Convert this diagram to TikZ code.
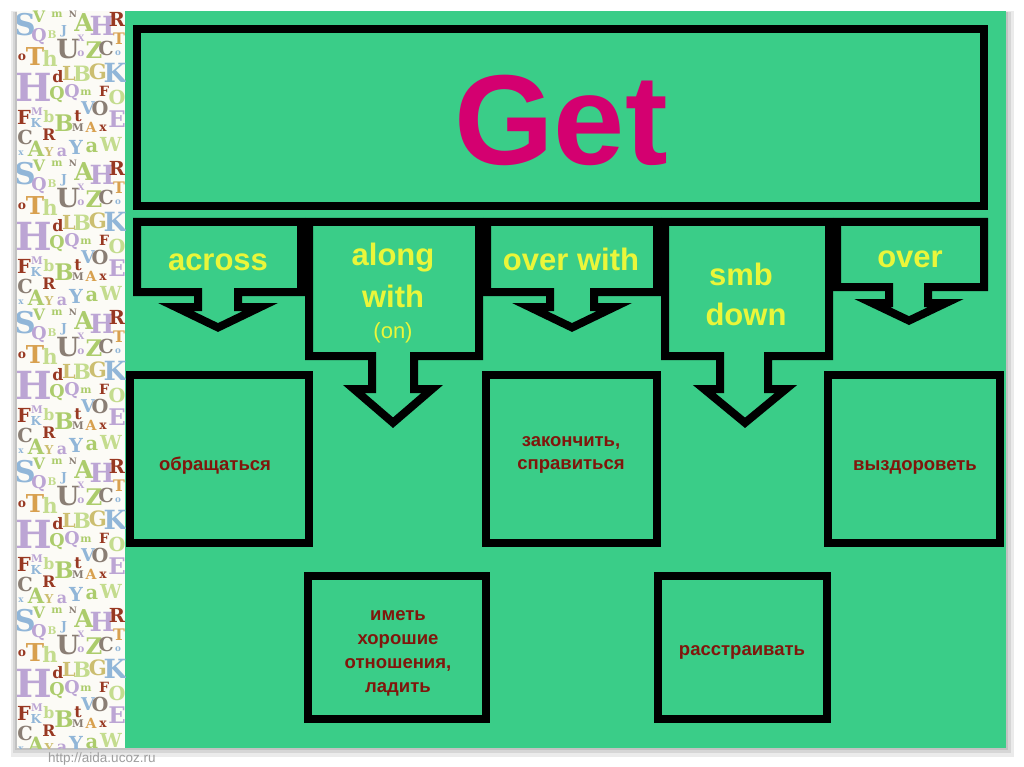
\documentclass[tikz,border=0pt]{standalone}
\usepackage{fontspec}
\setmainfont{Liberation Sans}
\newfontfamily\slab{DejaVu Serif}
\definecolor{slidegreen}{RGB}{58,205,136}
\definecolor{getpink}{RGB}{212,0,112}
\definecolor{lblyellow}{RGB}{234,246,58}
\definecolor{dkred}{RGB}{128,22,12}
\definecolor{stripbg}{RGB}{252,251,246}
\definecolor{lav}{RGB}{188,165,212}
\definecolor{lblue}{RGB}{145,182,216}
\definecolor{lgreen}{RGB}{172,204,108}
\definecolor{olive}{RGB}{204,190,112}
\definecolor{greyl}{RGB}{138,126,116}
\definecolor{orng}{RGB}{216,160,78}
\definecolor{brwn}{RGB}{152,56,34}
\definecolor{pgreen}{RGB}{196,220,142}
\newcount\ltc
\newcommand{\lt}[5]{\global\advance\ltc by 1\relax
  \pgfmathsetmacro\fs{0.88*#4}%
  \node[letter,text=#3,font=\slab\bfseries\fontsize{\fs}{\fs}\selectfont] (lt\the\ltc) at (#1,{#2+\ty}) {#5};}
\begin{document}
\begin{tikzpicture}[x=1pt,y=-1pt,
  frame/.style={draw=black,line width=8pt,fill=slidegreen,line join=miter,miter limit=8},
  ylabel/.style={text=lblyellow,font=\bfseries\fontsize{31}{36}\selectfont,anchor=base,inner sep=0pt},
  ysmall/.style={text=lblyellow,font=\fontsize{22}{26}\selectfont,anchor=base,inner sep=0pt},
  rlabel/.style={text=dkred,font=\bfseries\fontsize{18.5}{24}\selectfont,anchor=base,align=center,inner sep=0pt},
  letter/.style={inner sep=0pt,anchor=center}]
\useasboundingbox (0,0) rectangle (1024,767);
\fill[white] (0,0) rectangle (1024,767);
% shadow
\fill[black!8] (11,11) rectangle (1014,757);
\fill[black!16] (13,12) rectangle (1011,753);
\fill[black!24] (15,12) rectangle (1008,750);
% slide
\fill[slidegreen] (125,11) rectangle (1006,748);
\fill[stripbg] (17,11) rectangle (125,748);
\begin{scope}
\clip (17,11) rectangle (125,748);
\foreach \t in {0,...,4}{
  \pgfmathsetmacro\ty{\t*149}
  \lt{25}{25}{lblue}{34}{S}
  \lt{39}{17}{lgreen}{18}{V}
  \lt{57}{15}{lgreen}{12}{m}
  \lt{73}{14}{greyl}{10}{N}
  \lt{84}{23}{lgreen}{28}{A}
  \lt{102}{26}{lav}{30}{H}
  \lt{117}{19}{brwn}{22}{R}
  \lt{39}{37}{lav}{20}{Q}
  \lt{52}{35}{pgreen}{12}{B}
  \lt{64}{31}{lblue}{14}{J}
  \lt{119}{39}{orng}{18}{T}
  \lt{68}{49}{greyl}{30}{U}
  \lt{81}{38}{lav}{10}{X}
  \lt{81}{54}{lav}{12}{o}
  \lt{94}{50}{lgreen}{26}{Z}
  \lt{106}{48}{greyl}{22}{C}
  \lt{118}{53}{lblue}{10}{o}
  \lt{22}{57}{brwn}{14}{o}
  \lt{35}{57}{orng}{28}{T}
  \lt{50}{58}{pgreen}{24}{h}
  \lt{34}{87}{lav}{44}{H}
  \lt{58}{77}{brwn}{18}{d}
  \lt{69}{73}{olive}{22}{L}
  \lt{82}{74}{pgreen}{24}{B}
  \lt{98}{72}{olive}{24}{G}
  \lt{115}{73}{lblue}{30}{K}
  \lt{57}{95}{lgreen}{20}{Q}
  \lt{72}{93}{lav}{20}{Q}
  \lt{86}{93}{lgreen}{12}{m}
  \lt{104}{91}{brwn}{16}{F}
  \lt{117}{97}{pgreen}{22}{O}
  \lt{24}{117}{brwn}{22}{F}
  \lt{37}{112}{lav}{12}{M}
  \lt{49}{117}{pgreen}{18}{b}
  \lt{36}{123}{lblue}{14}{K}
  \lt{64}{123}{lgreen}{26}{B}
  \lt{78}{116}{brwn}{18}{t}
  \lt{88}{108}{lblue}{20}{V}
  \lt{100}{108}{greyl}{22}{O}
  \lt{117}{119}{lav}{26}{E}
  \lt{78}{128}{greyl}{12}{M}
  \lt{91}{127}{orng}{16}{A}
  \lt{103}{128}{brwn}{14}{x}
  \lt{49}{135}{brwn}{18}{R}
  \lt{25}{137}{greyl}{22}{C}
  \lt{36}{149}{lgreen}{24}{A}
  \lt{49}{152}{olive}{14}{Y}
  \lt{62}{152}{lav}{18}{a}
  \lt{76}{147}{lblue}{22}{Y}
  \lt{92}{147}{lgreen}{22}{a}
  \lt{111}{144}{pgreen}{22}{W}
  \lt{21}{153}{lblue}{10}{x}
}
\end{scope}
% top box
\draw[frame] (137,29) rectangle (984,206);
\node[text=getpink,font=\bfseries\fontsize{128}{128}\selectfont,anchor=base,inner sep=0pt] (get) at (561,165) {Get};
% callouts
\draw[frame] (137,222) -- (301,222) -- (301,292) -- (238,292) -- (238,307) -- (260.5,307) -- (218,327.5) -- (175.5,307) -- (198,307) -- (198,292) -- (137,292) -- cycle;
\draw[frame] (309,222) -- (479,222) -- (479,356) -- (414,356) -- (414,389) -- (432.2,389) -- (393,422.7) -- (353.8,389) -- (372,389) -- (372,356) -- (309,356) -- cycle;
\draw[frame] (487,222) -- (657,222) -- (657,292) -- (594,292) -- (594,307) -- (614.5,307) -- (572,327.5) -- (529.5,307) -- (550,307) -- (550,292) -- (487,292) -- cycle;
\draw[frame] (665,222) -- (829,222) -- (829,356) -- (768,356) -- (768,389) -- (786,389) -- (745,422.8) -- (704,389) -- (720,389) -- (720,356) -- (665,356) -- cycle;
\draw[frame] (837,222) -- (984,222) -- (984,287) -- (928,287) -- (928,303) -- (946,303) -- (909,320.6) -- (872,303) -- (889,303) -- (889,287) -- (837,287) -- cycle;
\node[ylabel] (across) at (218,270) {across};
\node[ylabel] (along) at (393,265) {along};
\node[ylabel] (with) at (393,307) {with};
\node[ysmall] (on) at (393,338) {(on)};
\node[ylabel] (overwith) at (571,270) {over with};
\node[ylabel] (smb) at (741,285) {smb};
\node[ylabel] (down) at (746,325) {down};
\node[ylabel] (over) at (910,267) {over};
% lower boxes
\draw[frame] (130,375) rectangle (309,543);
\draw[frame] (486,375) rectangle (657,543);
\draw[frame] (828,375) rectangle (1000,543);
\draw[frame] (308,576) rectangle (486,719);
\draw[frame] (658,576) rectangle (827,719);
\node[rlabel] (t1) at (215,470) {обращаться};
\node[rlabel,font=\bfseries\fontsize{18.5}{23}\selectfont] (t2) at (571,469) {закончить,\\справиться};
\node[rlabel] (t3) at (915,470) {выздороветь};
\node[rlabel] (t4) at (398,692) {иметь\\хорошие\\отношения,\\ладить};
\node[rlabel] (t5) at (742,655) {расстраивать};
\node[text=black!38,font=\fontsize{13.5}{15}\selectfont,anchor=base west,inner sep=0pt] (url) at (48,762) {http://aida.ucoz.ru};
\end{tikzpicture}
\end{document}
